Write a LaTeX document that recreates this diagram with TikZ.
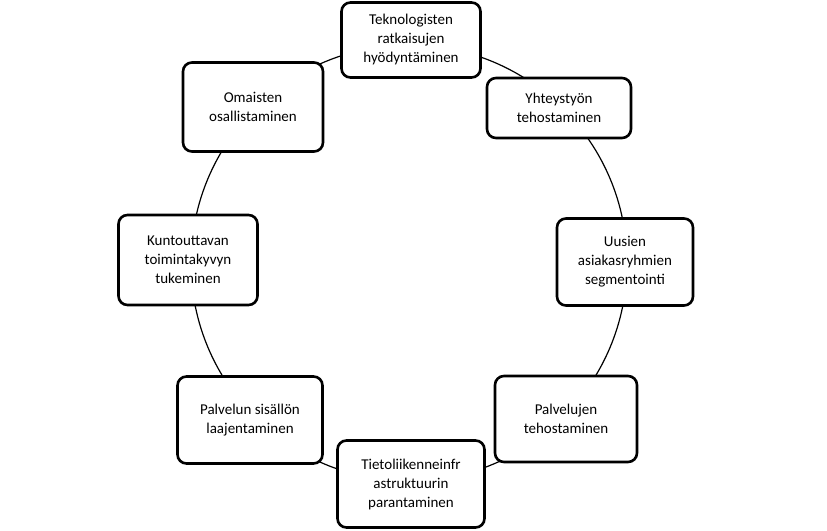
\documentclass[tikz,border=0pt]{standalone}
\usepackage{fontspec}
\setmainfont{Carlito}
\begin{document}
\begin{tikzpicture}[x=1pt,y=-1pt,
  bx/.style={draw=black,line width=2.6pt,rounded corners=9pt,fill=white,align=center,font=\fontsize{15}{19}\selectfont,inner sep=0pt}]
\useasboundingbox (0,0) rectangle (827,530);
\coordinate (c) at (409,263);
\draw[line width=1.2pt] (c) circle[radius=218];
\node[bx,minimum width=139pt,minimum height=75pt] (a) at (411,40) {Teknologisten\\ratkaisujen\\hyödyntäminen};
\node[bx,minimum width=144pt,minimum height=60pt] (b) at (559,108) {Yhteystyön\\tehostaminen};
\node[bx,minimum width=136pt,minimum height=87pt] (d) at (625,262) {Uusien\\asiakasryhmien\\segmentointi};
\node[bx,minimum width=142pt,minimum height=86pt] (e) at (566,419) {Palvelujen\\tehostaminen};
\node[bx,minimum width=147pt,minimum height=87pt] (f) at (411,484) {Tietoliikenneinfr\\astruktuurin\\parantaminen};
\node[bx,minimum width=145pt,minimum height=87pt] (g) at (250,420) {Palvelun sisällön\\laajentaminen};
\node[bx,minimum width=139pt,minimum height=90pt] (h) at (188,260) {Kuntouttavan\\toimintakyvyn\\tukeminen};
\node[bx,minimum width=140pt,minimum height=89pt] (i) at (253,107) {Omaisten\\osallistaminen};
\end{tikzpicture}
\end{document}
